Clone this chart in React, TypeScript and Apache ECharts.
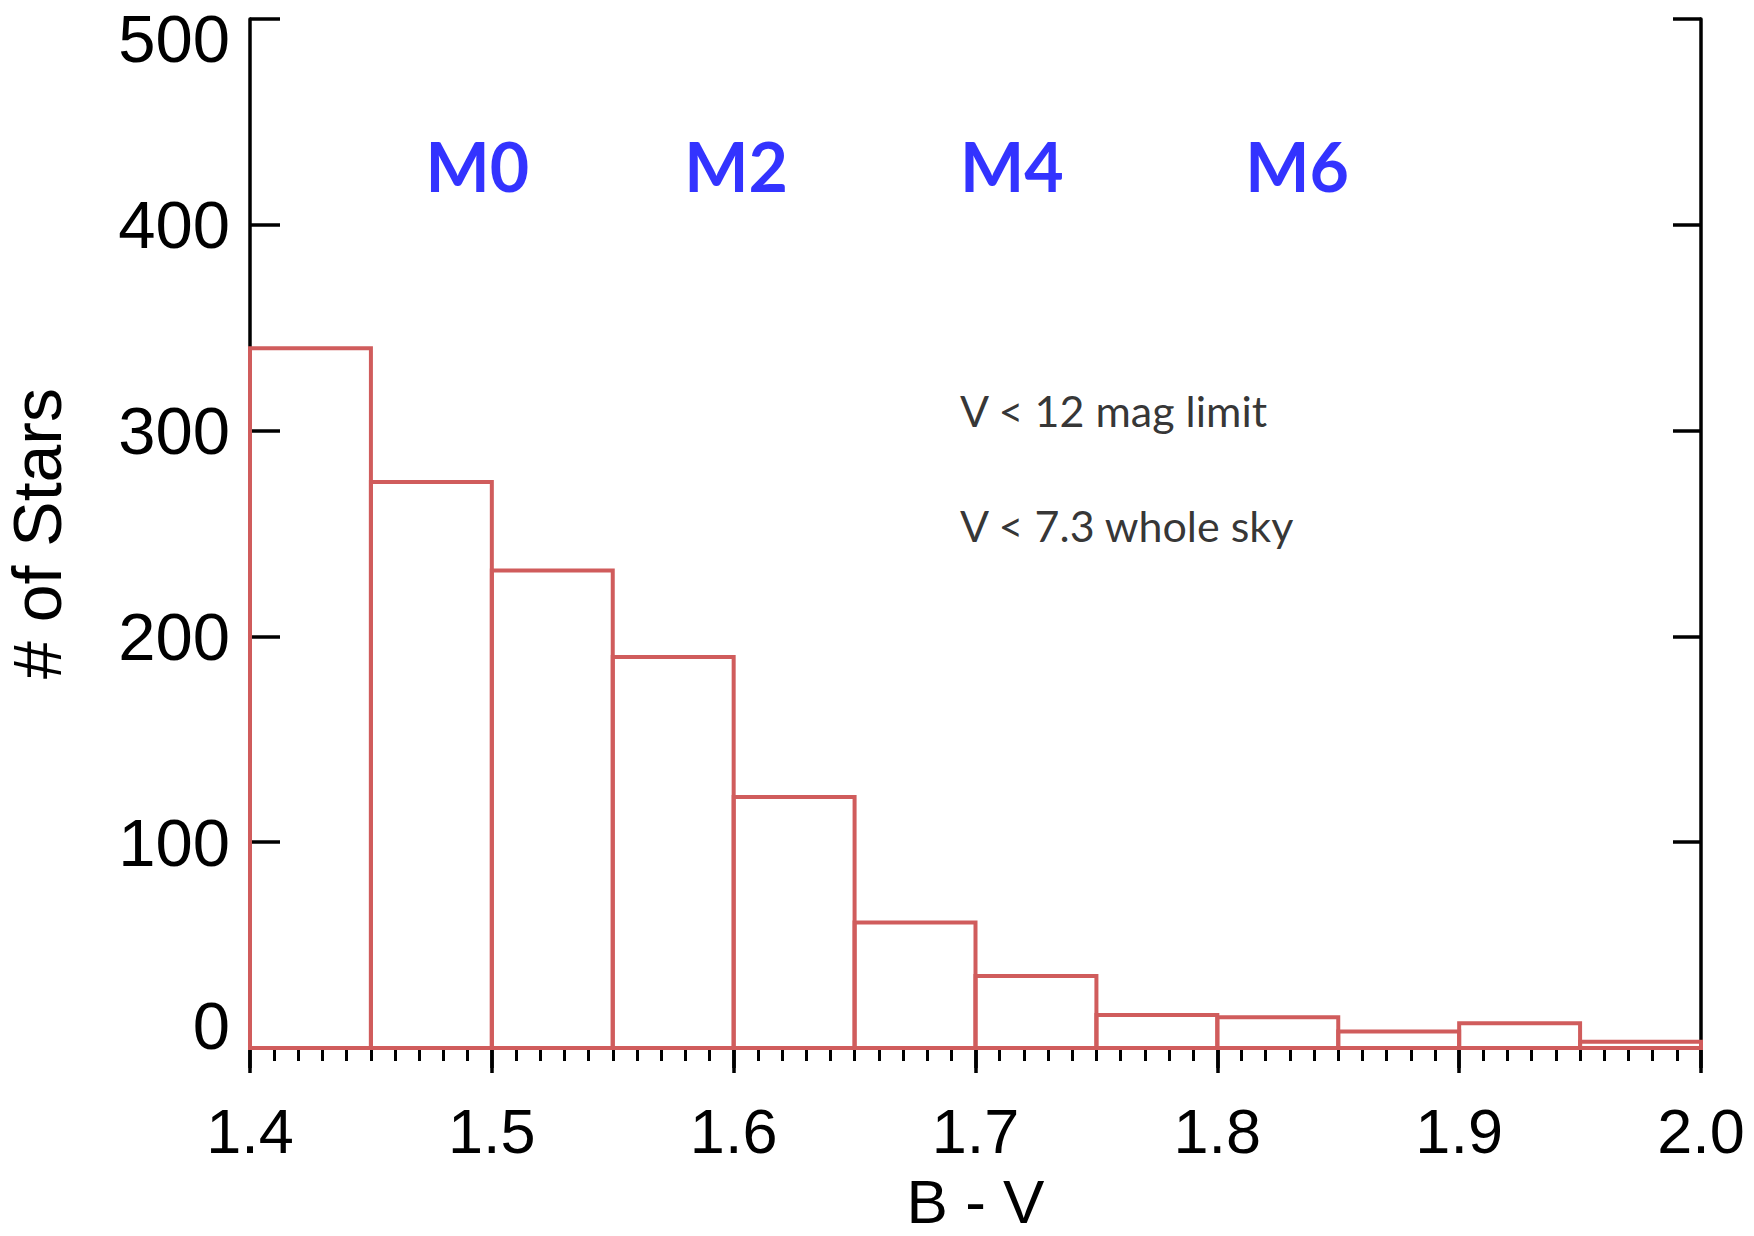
import React, { useEffect, useRef } from "react";
import * as echarts from "echarts";

const binStart = [1.4, 1.45, 1.5, 1.55, 1.6, 1.65, 1.7, 1.75, 1.8, 1.85, 1.9, 1.95];
const binEnd = [1.45, 1.5, 1.55, 1.6, 1.65, 1.7, 1.75, 1.8, 1.85, 1.9, 1.95, 2.0];
const starCounts = [340, 275, 232, 190, 122, 61, 35, 16, 15, 8, 12, 3];

const spectralTypes = ["M0", "M2", "M4", "M6"];
const spectralX = [1.494, 1.601, 1.715, 1.833];
const spectralY = [429, 429, 429, 429];

const noteTexts = ["V < 12 mag limit", "V < 7.3 whole sky"];
const noteX = [1.6934, 1.6934];
const noteY = [310, 254];

const RED = "#D05C5C";
const AXIS_FONT = "'Liberation Sans', Arial, Helvetica, sans-serif";

export default function App() {
  const ref = useRef<HTMLDivElement>(null);

  useEffect(() => {
    if (!ref.current) return;
    const chart = echarts.init(ref.current, undefined, { renderer: "svg" });
    const histData = binStart.map((s, i) => [s, binEnd[i], starCounts[i]]);

    chart.setOption({
      animation: false,
      backgroundColor: "#fff",
      grid: { left: 250, right: 53, top: 19, bottom: 188, containLabel: false, outerBoundsMode: "none" },
      xAxis: [
        {
          type: "value",
          position: "bottom",
          min: 1.4,
          max: 2.0,
          interval: 0.1,
          axisLine: { show: true, lineStyle: { color: "#000", width: 3.5 } },
          axisTick: { show: true, inside: false, length: 25, lineStyle: { color: "#000", width: 3.5 } },
          minorTick: { show: true, splitNumber: 10, length: 13, lineStyle: { color: "#000", width: 3 } },
          splitLine: { show: false },
          minorSplitLine: { show: false },
          axisLabel: {
            fontSize: 63,
            lineHeight: 63,
            margin: 51,
            color: "#000",
            fontFamily: AXIS_FONT,
            formatter: (v: number) => v.toFixed(1),
          },
          name: "B - V",
          nameLocation: "middle",
          nameGap: 122,
          nameMoveOverlap: false,
          nameTextStyle: { fontSize: 62, lineHeight: 62, color: "#000", fontFamily: AXIS_FONT },
        },
        {
          type: "value",
          position: "top",
          min: 1.4,
          max: 2.0,
          interval: 0.1,
          axisLine: { show: true, lineStyle: { color: "#000", width: 3.5 } },
          axisTick: { show: true, inside: true, length: 20, lineStyle: { color: "#000", width: 3.5 } },
          axisLabel: { show: false },
          splitLine: { show: false },
        },
      ],
      yAxis: [
        {
          type: "value",
          position: "left",
          min: 0,
          max: 500,
          interval: 100,
          axisLine: { show: true, lineStyle: { color: "#000", width: 3.5 } },
          axisTick: { show: true, inside: true, length: 30, lineStyle: { color: "#000", width: 3.5 } },
          splitLine: { show: false },
          axisLabel: {
            margin: 20,
            color: "#000",
            fontSize: 67,
            fontFamily: AXIS_FONT,
            formatter: (v: number) =>
              v === 0 ? "{b|0}" : v === 500 ? "{t|500}" : "{n|" + v + "}",
            rich: {
              n: { fontSize: 67, fontFamily: AXIS_FONT, color: "#000" },
              b: { fontSize: 67, fontFamily: AXIS_FONT, color: "#000", padding: [0, 0, 46, 0] },
              t: { fontSize: 67, fontFamily: AXIS_FONT, color: "#000", padding: [38, 0, 0, 0] },
            },
          },
          name: "# of Stars",
          nameLocation: "middle",
          nameRotate: 90,
          nameGap: 180,
          nameTextStyle: { fontSize: 68, lineHeight: 66, color: "#000", fontFamily: AXIS_FONT },
        },
        {
          type: "value",
          position: "right",
          min: 0,
          max: 500,
          interval: 100,
          axisLine: { show: true, lineStyle: { color: "#000", width: 3.5 } },
          axisTick: { show: true, inside: true, length: 28, lineStyle: { color: "#000", width: 3.5 } },
          axisLabel: { show: false },
          splitLine: { show: false },
        },
      ],
      series: [
        {
          type: "custom",
          xAxisIndex: 0,
          yAxisIndex: 0,
          silent: true,
          z: 5,
          data: histData,
          renderItem: (params: any, api: any) => {
            const x0 = api.value(0);
            const x1 = api.value(1);
            const h = api.value(2);
            const p0 = api.coord([x0, h]);
            const p1 = api.coord([x1, 0]);
            return {
              type: "rect",
              shape: { x: p0[0], y: p0[1], width: p1[0] - p0[0], height: p1[1] - p0[1] },
              style: { fill: "none", stroke: RED, lineWidth: 4 },
            };
          },
        },
        {
          type: "scatter",
          xAxisIndex: 0,
          yAxisIndex: 0,
          silent: true,
          symbolSize: 1,
          itemStyle: { color: "rgba(0,0,0,0)" },
          data: spectralTypes.map((t, i) => ({ name: t, value: [spectralX[i], spectralY[i]] })),
          label: {
            show: true,
            position: "inside",
            formatter: (p: any) => p.name,
            fontSize: 68,
            fontWeight: "bold",
            fontFamily: "Lato, 'Open Sans', sans-serif",
            color: "#0000FF",
          },
        },
        {
          type: "scatter",
          xAxisIndex: 0,
          yAxisIndex: 0,
          silent: true,
          symbolSize: 1,
          itemStyle: { color: "rgba(0,0,0,0)" },
          data: noteTexts.map((t, i) => ({ name: t, value: [noteX[i], noteY[i]] })),
          label: {
            show: true,
            position: "right",
            distance: 0,
            formatter: (p: any) => p.name,
            fontSize: 43,
            fontFamily: "Lato, 'Open Sans', sans-serif",
            color: "#000",
          },
        },
      ],
    });

    return () => chart.dispose();
  }, []);

  return (
    <div
      ref={ref}
      style={{ position: "fixed", left: 0, top: 0, width: 1754, height: 1236, background: "#fff" }}
    />
  );
}
